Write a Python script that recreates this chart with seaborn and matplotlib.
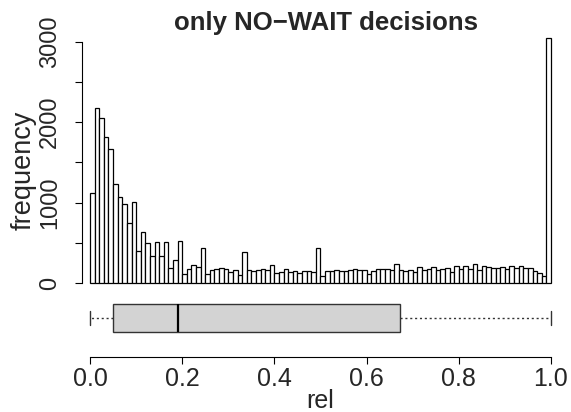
import numpy as np
import pandas as pd
import matplotlib
matplotlib.use("Agg")
import matplotlib.pyplot as plt
import seaborn as sns

# ---- data ----
bin_width = 0.01
bin_range = (0.0, 1.0)
counts = [1120, 2178, 2057, 1821, 1664, 1230, 1068, 985, 745, 1006,
          397, 635, 495, 335, 511, 339, 515, 188, 289, 529,
          114, 176, 225, 199, 443, 112, 161, 178, 186, 182,
          137, 165, 99, 393, 161, 149, 161, 174, 161, 224,
          132, 145, 182, 141, 153, 132, 153, 153, 141, 435,
          87, 157, 153, 161, 153, 153, 161, 182, 169, 161,
          112, 153, 174, 174, 174, 161, 234, 169, 149, 161,
          141, 199, 169, 182, 199, 165, 174, 190, 145, 211,
          182, 219, 178, 236, 165, 215, 203, 186, 195, 199,
          178, 215, 195, 211, 190, 195, 153, 132, 87, 3040]
box_stats = {"whislo": 0.0, "q1": 0.049, "med": 0.19, "q3": 0.672, "whishi": 1.0}
y_ticks = [0, 500, 1000, 1500, 2000, 2500, 3000]
y_labels = ["0", "", "1000", "", "2000", "", "3000"]
x_ticks = [0.0, 0.2, 0.4, 0.6, 0.8, 1.0]
x_labels = ["0.0", "0.2", "0.4", "0.6", "0.8", "1.0"]
title = "only NO\u2212WAIT decisions"

sns.set_style("white")
plt.rcParams["font.family"] = ["Liberation Sans", "DejaVu Sans"]
FS = 18

W, H = 571, 412
fig = plt.figure(figsize=(W / 100, H / 100), dpi=100)

# histogram axes (pixel layout)
hl, hr, hb, ht = 71.6, 569.4, 293.1, 28.1
ax = fig.add_axes([hl / W, (H - hb) / H, (hr - hl) / W, (hb - ht) / H])
nb = len(counts)
centers = bin_range[0] + bin_width * (np.arange(nb) + 0.5)
df = pd.DataFrame({"rel": centers, "n": counts})
sns.histplot(data=df, x="rel", weights="n", binwidth=bin_width, binrange=bin_range,
             stat="count", color="white", edgecolor="black", linewidth=0.9,
             alpha=1.0, ax=ax)
ax.set_xlim(-0.04, 1.04)
ax.set_ylim(-0.04 * 3047, 1.04 * 3047)
for s in ["top", "right", "bottom"]:
    ax.spines[s].set_visible(False)
ax.spines["left"].set_position(("data", -0.018))
ax.spines["left"].set_bounds(0, 3000)
ax.spines["left"].set_color("black")
ax.spines["left"].set_linewidth(0.8)
ax.set_xticks([])
ax.set_yticks(y_ticks)
ax.set_yticklabels(y_labels, rotation=90, va="center", fontsize=17)
ax.tick_params(axis="y", left=True, length=5, width=0.8, color="black", pad=10)
ax.set_ylabel("frequency", fontsize=19.5, va="center")
ax.yaxis.set_label_coords((24 - hl) / (hr - hl), (hb - 170) / (hb - ht))
ax.set_xlabel("")
# title placed at the reference's baseline position
fig.text(326 / W, (H - 30) / H, title, ha="center", va="baseline",
         fontsize=18.5, fontweight="bold")

# boxplot axes
bb, bt = 356.7, 296.0
bax = fig.add_axes([hl / W, (H - bb) / H, (hr - hl) / W, (bb - bt) / H])
st = dict(box_stats)
st["fliers"] = []
bax.bxp([st], positions=[0.633], widths=0.468, orientation="horizontal",
        patch_artist=True, showfliers=False, capwidths=[0.23],
        boxprops=dict(facecolor="#d3d3d3", edgecolor="#333333", linewidth=1.0),
        medianprops=dict(color="black", linewidth=1.6),
        whiskerprops=dict(color="#333333", linestyle=(0, (1.5, 2)), linewidth=1.0),
        capprops=dict(color="#333333", linewidth=1.0))
bax.set_xlim(-0.04, 1.04)
bax.set_ylim(0, 1)
for s in ["top", "right", "left"]:
    bax.spines[s].set_visible(False)
bax.spines["bottom"].set_bounds(0, 1)
bax.spines["bottom"].set_color("black")
bax.spines["bottom"].set_linewidth(0.8)
bax.set_yticks([])
bax.set_xticks(x_ticks)
bax.set_xticklabels(x_labels, fontsize=FS)
bax.tick_params(axis="x", bottom=True, length=5, width=0.8, color="black", pad=2.5)
bax.set_xlabel("rel", fontsize=FS, labelpad=-1.5)

fig.savefig("out.png", dpi=100)
